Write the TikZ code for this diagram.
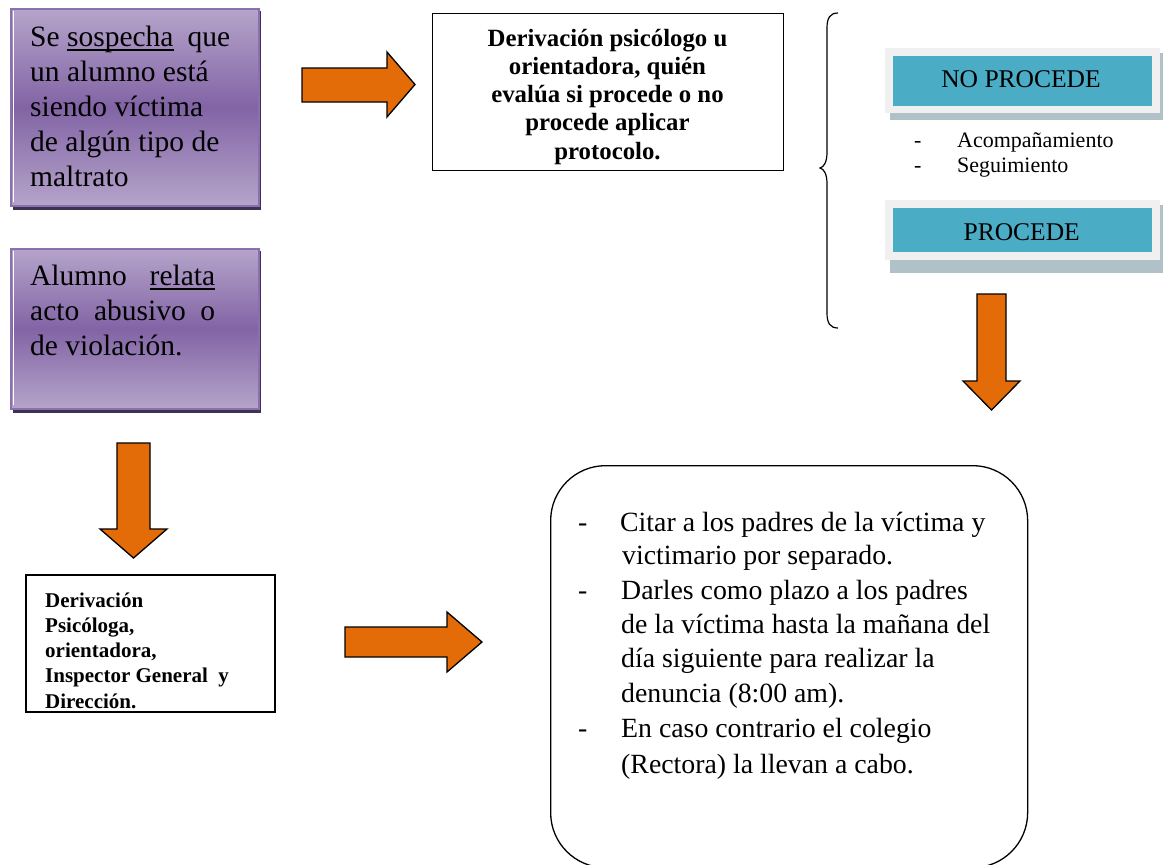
\documentclass[tikz,border=0pt]{standalone}
\usepackage{fontspec}
\setmainfont{Liberation Serif}
\definecolor{orangeA}{HTML}{E36C09}
\definecolor{purpL}{HTML}{B5A4CA}
\definecolor{purpD}{HTML}{8264A5}
\definecolor{purpB}{HTML}{8A70AE}
\definecolor{purpS}{HTML}{3F3151}
\definecolor{tealA}{HTML}{4BACC6}
\definecolor{lightA}{HTML}{F0F0F0}
\definecolor{blueS}{HTML}{B0C1C8}
\newcommand{\myul}[1]{\setbox0\hbox{#1}\rlap{\rule[-4.5pt]{\wd0}{1.8pt}}\box0}
\newcommand{\nsp}{\spaceskip=0.25em\xspaceskip=0.25em\relax}
\begin{document}
\begin{tikzpicture}[x=1pt,y=-1pt,
  blockarrow/.style={fill=orangeA, draw=black, line width=1.3pt, line join=miter},
  purplebox/.style={rectangle, draw=purpB, line width=1.6pt, top color=purpL, bottom color=purpL, middle color=purpD, inner sep=0pt, anchor=north west},
  purptext/.style={anchor=base west, inner sep=0pt, align=left, font=\fontsize{29.5}{35}\selectfont},
  plainbox/.style={rectangle, draw=black, line width=1.3pt, fill=white, inner sep=0pt, anchor=north west},
  tealbox/.style={rectangle, fill=tealA, inner sep=0pt, anchor=north west},
  teallabel/.style={anchor=base, inner sep=0pt, font=\fontsize{25.5}{30}\selectfont},
  smalltext/.style={anchor=base west, inner sep=0pt, font=\fontsize{22}{25}\selectfont},
  bigtext/.style={anchor=base west, inner sep=0pt, align=left, text width=400}
  ]
\useasboundingbox (0,0) rectangle (1165,865);

% ---------- purple boxes ----------
\fill[purpS] (13,11) rectangle (261,210);
\node[purplebox, minimum width=248, minimum height=197] (p1) at (10,8) {};
\draw[white, line width=1pt] (13,11) -- (13,202);
\node[purptext, text width=200] (t1) at (30,46) {\nsp Se \myul{sospecha}\hfill que\\un alumno está\\siendo víctima\\de algún tipo de\\maltrato};

\fill[purpS] (13,251) rectangle (261,413);
\node[purplebox, minimum width=248, minimum height=160] (p2) at (10,248) {};
\draw[white, line width=1pt] (13,251) -- (13,405);
\node[purptext, text width=185] (t2) at (30,285) {\nsp Alumno\hfill\myul{relata}\\acto\hfill abusivo\hfill o\\de violación.};

% ---------- top center box ----------
\node[plainbox, minimum width=351, minimum height=157] (c1) at (432,13) {};
\node[anchor=base, inner sep=0pt, text width=345, align=center, font=\fontsize{24.8}{28.3}\selectfont\bfseries] (ct) at (607.5,46) {\nsp Derivación psicólogo u\\orientadora, quién\\evalúa si procede o no\\procede aplicar\\protocolo.};

% ---------- brace ----------
\draw[line width=1.2pt] (838,13) .. controls (830,13) and (827,18) .. (827,28) -- (827,152) .. controls (827,162) and (824,167) .. (820,168) .. controls (824,169) and (827,174) .. (827,184) -- (827,313) .. controls (827,323) and (830,328) .. (838,328);

% ---------- teal boxes ----------
\fill[blueS] (890,53) rectangle (1163,120);
\node[rectangle, fill=lightA, inner sep=0pt, anchor=north west, minimum width=275, minimum height=65] (n0) at (885,48) {};
\node[tealbox, minimum width=259, minimum height=50] (n1) at (893,56) {};
\node[teallabel] (n1t) at (1021,87.3) {NO PROCEDE};

\node[smalltext] (d1) at (914,147) {-};
\node[smalltext] (d2) at (914,172) {-};
\node[smalltext] (l1) at (957,147) {Acompañamiento};
\node[smalltext] (l2) at (957,172) {Seguimiento};

\fill[blueS] (890,205) rectangle (1163,273);
\node[rectangle, fill=lightA, inner sep=0pt, anchor=north west, minimum width=275, minimum height=60] (q0) at (885,200) {};
\node[tealbox, minimum width=259, minimum height=44] (q1) at (893,208) {};
\node[teallabel] (q1t) at (1021.7,240) {PROCEDE};

% ---------- block arrows ----------
\draw[blockarrow] (302,68) -- (387,68) -- (387,52) -- (415,84.5) -- (387,117) -- (387,102) -- (302,102) -- cycle;
\draw[blockarrow] (977,294) -- (1006,294) -- (1006,381) -- (1020,381) -- (991.5,410) -- (963,381) -- (977,381) -- cycle;
\draw[blockarrow] (117,443) -- (150,443) -- (150,529) -- (167,529) -- (133.5,558) -- (100,529) -- (117,529) -- cycle;
\draw[blockarrow] (345,627) -- (447,627) -- (447,612) -- (482,642) -- (447,672) -- (447,657) -- (345,657) -- cycle;

% ---------- lower left box ----------
\node[plainbox, minimum width=249, minimum height=137] (b5) at (26,575) {};
\begin{scope}
\clip (26,575) rectangle (275,712);
\node[anchor=base west, inner sep=0pt, align=left, text width=225, font=\fontsize{21}{25.3}\selectfont\bfseries] (b5t) at (45,607) {\nsp Derivación\\Psicóloga,\\orientadora,\\Inspector General \ y\\Dirección.};
\end{scope}
\draw[line width=1.3pt] (26,575) rectangle (275,712);

% ---------- rounded box ----------
\node[rectangle, draw=black, line width=1.3pt, rounded corners=55pt, inner sep=0pt, anchor=north west, minimum width=477, minimum height=402] (r1) at (550,465) {};
\node[bigtext, font=\fontsize{27.8}{33}\selectfont] (r1d1) at (578,531.5) {-};
\node[bigtext, font=\fontsize{27.8}{33}\selectfont] (r1a) at (620,531.5) {\nsp Citar a los padres de la víctima y\\\hspace*{2pt}victimario por separado.};
\node[bigtext, font=\fontsize{27.8}{33}\selectfont] (r1d2) at (578,599.5) {-};
\node[bigtext, font=\fontsize{27.8}{34.2}\selectfont] (r1b) at (621,599.5) {\nsp Darles como plazo a los padres\\de la víctima hasta la mañana del\\día siguiente para realizar la\\denuncia (8:00 am).};
\node[bigtext, font=\fontsize{27.8}{33}\selectfont] (r1d3) at (578,737.5) {-};
\node[bigtext, font=\fontsize{27.8}{35.8}\selectfont] (r1c) at (621,737.5) {\nsp En caso contrario el colegio\\(Rectora) la llevan a cabo.};
\end{tikzpicture}
\end{document}
